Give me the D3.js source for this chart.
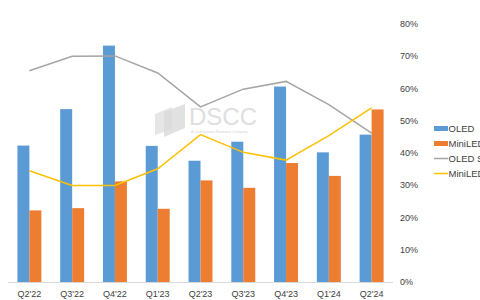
<!DOCTYPE html>
<html lang="en">
<head>
    <meta charset="UTF-8">
    <title>OLED vs MiniLED</title>
    <script src="https://d3js.org/d3.v7.min.js"></script>
    <style>
        body { margin: 0; padding: 0; background: #fff; }
        svg { display: block; font-family: Arial, "Liberation Sans", sans-serif; }
    </style>
</head>
<body>
    <svg width="480" height="300"></svg>
    <script>
        // Data
        const quarters = ["Q2'22", "Q3'22", "Q4'22", "Q1'23", "Q2'23", "Q3'23", "Q4'23", "Q1'24", "Q2'24"];
        const oledUnits = [4.23, 5.36, 7.33, 4.22, 3.76, 4.35, 6.06, 4.02, 4.57];
        const miniledUnits = [2.22, 2.29, 3.12, 2.27, 3.15, 2.92, 3.69, 3.29, 5.35];
        const oledShare = [0.655, 0.700, 0.701, 0.648, 0.543, 0.598, 0.622, 0.550, 0.462];
        const miniledShare = [0.345, 0.299, 0.299, 0.351, 0.457, 0.402, 0.378, 0.454, 0.540];
        const shareTicks = [0, 0.1, 0.2, 0.3, 0.4, 0.5, 0.6, 0.7, 0.8];

        const colors = { oled: "#5B9BD5", miniled: "#ED7D31", oledShare: "#A5A5A5", miniledShare: "#FFC000" };

        const svg = d3.select("svg");
        const plot = { left: 8, right: 393, top: 24, bottom: 282 };

        // Scales
        const x0 = d3.scaleBand()
            .domain(quarters)
            .range([plot.left, plot.right])
            .paddingInner(0.44)
            .paddingOuter(0.22);

        const x1 = d3.scaleBand()
            .domain(["oled", "miniled"])
            .range([0, x0.bandwidth()]);

        const yBar = d3.scaleLinear().domain([0, 8]).range([plot.bottom, plot.top]);
        const yShare = d3.scaleLinear().domain([0, 0.8]).range([plot.bottom, plot.top]);

        // Watermark
        const wm = svg.append("g").attr("opacity", 0.9);
        wm.append("path").attr("d", "M155,114 L172,107 L172,129 L155,135 Z").attr("fill", "#e4e4e4");
        wm.append("path").attr("d", "M164,112 L185,104 L185,128 L164,137 Z").attr("fill", "#d6d6d6").attr("opacity", 0.8);
        wm.append("text").attr("x", 189).attr("y", 125)
            .attr("font-size", 24).attr("fill", "#dcdcdc").text("DSCC");
        wm.append("text").attr("x", 191).attr("y", 133)
            .attr("font-size", 3.6).attr("fill", "#d0d0d0").text("A Counterpoint Research Company");

        // Bars
        const groups = svg.append("g").selectAll("g")
            .data(quarters.map((q, i) => ({ q, oled: oledUnits[i], miniled: miniledUnits[i] })))
            .join("g")
            .attr("transform", d => `translate(${x0(d.q)},0)`);

        groups.selectAll("rect")
            .data(d => ["oled", "miniled"].map(k => ({ k, v: d[k] })))
            .join("rect")
            .attr("x", d => x1(d.k))
            .attr("y", d => yBar(d.v))
            .attr("width", x1.bandwidth())
            .attr("height", d => plot.bottom - yBar(d.v))
            .attr("fill", d => colors[d.k]);

        // Category axis
        svg.append("line")
            .attr("x1", plot.left).attr("x2", plot.right)
            .attr("y1", plot.bottom + 0.5).attr("y2", plot.bottom + 0.5)
            .attr("stroke", "#d9d9d9");

        svg.append("g").selectAll("text")
            .data(quarters)
            .join("text")
            .attr("x", d => x0(d) + x0.bandwidth() / 2)
            .attr("y", 296.5)
            .attr("text-anchor", "middle")
            .attr("font-size", 9)
            .attr("fill", "#404040")
            .text(d => d);

        // Share axis on the right
        svg.append("g").selectAll("text")
            .data(shareTicks)
            .join("text")
            .attr("x", 400)
            .attr("y", d => yShare(d) + 3.2)
            .attr("font-size", 9)
            .attr("fill", "#404040")
            .text(d3.format(".0%"));

        // Share lines
        const line = d3.line()
            .x((d, i) => x0(quarters[i]) + x0.bandwidth() / 2)
            .y(d => yShare(d));

        svg.append("path").datum(oledShare)
            .attr("d", line).attr("fill", "none")
            .attr("stroke", colors.oledShare).attr("stroke-width", 1.5);

        svg.append("path").datum(miniledShare)
            .attr("d", line).attr("fill", "none")
            .attr("stroke", colors.miniledShare).attr("stroke-width", 1.5);

        // Legend (cut off by the right edge, as in the source image)
        const legendItems = [
            { name: "OLED", color: colors.oled, type: "bar" },
            { name: "MiniLED", color: colors.miniled, type: "bar" },
            { name: "OLED Share", color: colors.oledShare, type: "line" },
            { name: "MiniLED Share", color: colors.miniledShare, type: "line" }
        ];

        const legend = svg.append("g").selectAll("g")
            .data(legendItems)
            .join("g")
            .attr("transform", (d, i) => `translate(434,${128.5 + i * 15})`);

        legend.filter(d => d.type === "bar").append("rect")
            .attr("x", 0).attr("y", -2.5).attr("width", 14).attr("height", 5)
            .attr("fill", d => d.color);

        legend.filter(d => d.type === "line").append("line")
            .attr("x1", 0).attr("x2", 14).attr("y1", 0).attr("y2", 0)
            .attr("stroke", d => d.color).attr("stroke-width", 1.5);

        legend.append("text")
            .attr("x", 14.5).attr("y", 3.3)
            .attr("font-size", 9.5)
            .attr("fill", "#404040")
            .text(d => d.name);
    </script>
</body>
</html>
